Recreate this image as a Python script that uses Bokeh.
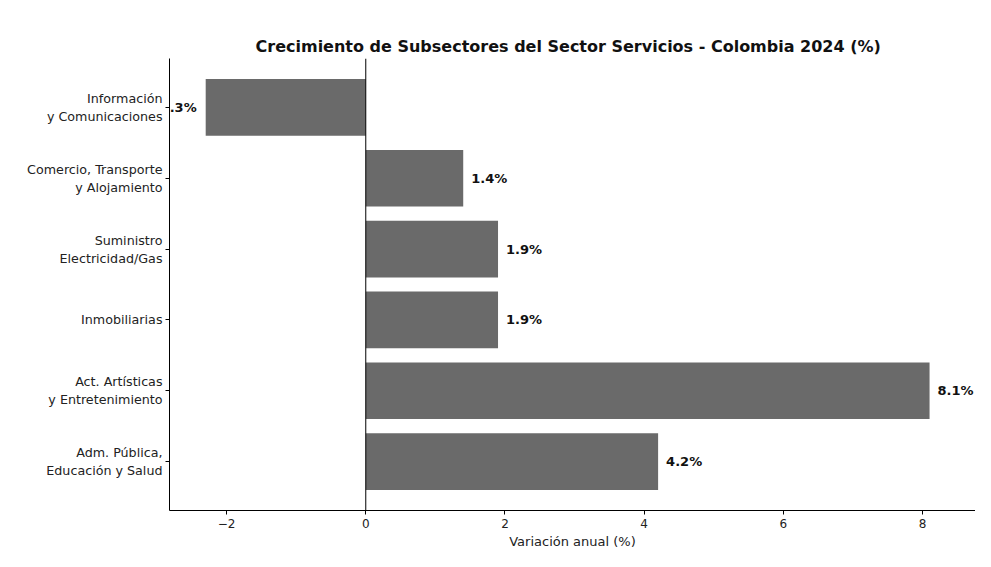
from bokeh.plotting import figure
from bokeh.models import ColumnDataSource, Span, FixedTicker, Title, Range1d, Label
from bokeh.embed import file_html
from bokeh.resources import INLINE

categories = [
    "Información\ny Comunicaciones",
    "Comercio, Transporte\ny Alojamiento",
    "Suministro\nElectricidad/Gas",
    "Inmobiliarias",
    "Act. Artísticas\ny Entretenimiento",
    "Adm. Pública,\nEducación y Salud",
]
values = [-2.3, 1.4, 1.9, 1.9, 8.1, 4.2]
x_ticks = [-2, 0, 2, 4, 6, 8]
title_text = "Crecimiento de Subsectores del Sector Servicios - Colombia 2024 (%)"
x_label = "Variación anual (%)"

FONT = "DejaVu Sans"

positions = list(range(len(categories)))
src = ColumnDataSource(dict(pos=positions, val=values))

# inverted numeric range: first category at the top (matplotlib-like margins)
pad = 0.69
p = figure(width=975, height=551,
           y_range=Range1d(len(categories) - 1 + pad, -pad),
           x_range=Range1d(-2.82, 8.76),
           output_backend="svg", toolbar_location=None,
           min_border_left=169, min_border_right=0, min_border_top=58,
           min_border_bottom=41)

p.hbar(y="pos", right="val", left=0, height=0.8, source=src,
       fill_color="#6a6a6a", line_color=None)

for pos, v in zip(positions, values):
    p.add_layout(Label(x=v, y=pos, text=f"{v:.1f}%",
                       text_align="left" if v >= 0 else "right",
                       x_offset=8 if v >= 0 else -9, text_baseline="middle",
                       text_font=FONT, text_font_size="13px",
                       text_font_style="bold", text_color="#111111"))

p.add_layout(Span(location=0, dimension="height", line_color="black",
                  line_width=1))

t = Title(text=title_text, align="left", offset=86, text_font=FONT,
          text_font_size="16px", text_font_style="bold", text_color="#111111",
          standoff=5)
p.add_layout(t, "above")

p.xgrid.visible = False
p.ygrid.visible = False
p.outline_line_color = None
p.background_fill_color = "white"
p.border_fill_color = "white"

p.xaxis.ticker = FixedTicker(ticks=x_ticks)
p.xaxis.minor_tick_line_color = None
p.xaxis.major_tick_out = 4
p.xaxis.major_tick_in = 0
p.xaxis.major_label_standoff = 4
p.xaxis.major_label_text_font = FONT
p.xaxis.major_label_text_font_size = "12px"
p.xaxis.major_label_text_color = "#222222"
p.xaxis.axis_label = x_label
p.xaxis.axis_label_text_font = FONT
p.xaxis.axis_label_text_font_size = "13px"
p.xaxis.axis_label_text_font_style = "normal"
p.xaxis.axis_label_text_color = "#222222"
p.xaxis.axis_label_standoff = 3
p.xaxis.axis_line_color = "black"

p.yaxis.ticker = FixedTicker(ticks=positions)
p.yaxis.major_label_overrides = {pos: cat for pos, cat in zip(positions, categories)}
p.yaxis.minor_tick_line_color = None
p.yaxis.major_tick_out = 4
p.yaxis.major_tick_in = 0
p.yaxis.major_label_text_font = FONT
p.yaxis.major_label_text_font_size = "12.7px"
p.yaxis.major_label_text_color = "#222222"
p.yaxis.major_label_standoff = 3
p.yaxis.axis_line_color = "black"

open("out.html", "w").write(file_html(p, INLINE))
